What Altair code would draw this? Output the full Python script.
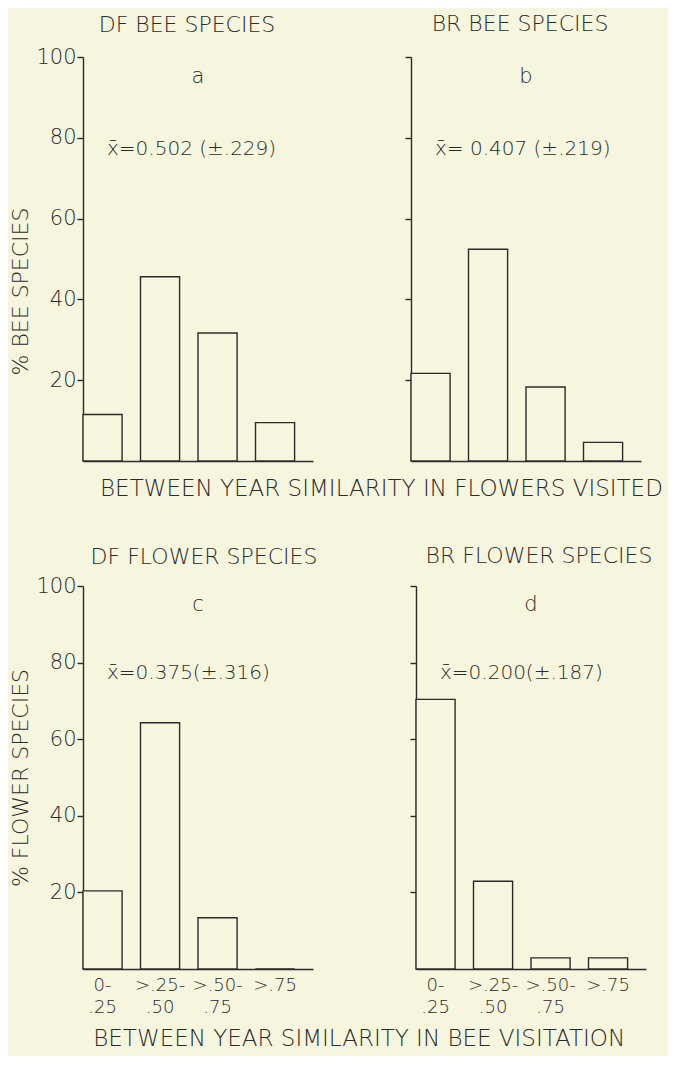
import altair as alt
import pandas as pd

# ---- data ----
categories = ["0-|.25", ">.25-|.50", ">.50-|.75", ">.75"]
df_bee = [11.5, 45.6, 31.7, 9.5]
br_bee = [21.7, 52.4, 18.3, 4.6]
df_flower = [20.4, 64.3, 13.4, 0.0]
br_flower = [70.4, 22.9, 2.9, 2.9]

panel_titles = ["DF BEE SPECIES", "BR BEE SPECIES", "DF FLOWER SPECIES", "BR FLOWER SPECIES"]
panel_letters = ["a", "b", "c", "d"]
mean_texts = ["x\u0304=0.502 (\u00b1.229)", "x\u0304= 0.407 (\u00b1.219)",
              "x\u0304=0.375(\u00b1.316)", "x\u0304=0.200(\u00b1.187)"]
y_titles = ["% BEE SPECIES", "% FLOWER SPECIES"]
x_titles = ["BETWEEN YEAR SIMILARITY IN FLOWERS VISITED",
            "BETWEEN YEAR SIMILARITY IN BEE VISITATION"]
y_ticks = [20, 40, 60, 80, 100]

BG = "#f6f5de"
INK = "#2b2b2b"
FONT = "DejaVu Sans"
W = 230


def panel(values, title, letter, mean, left, bottom, height, ytitle, title_dx,
          title_dy, title_y=None):
    df = pd.DataFrame({"cat": categories, "pct": values})
    xaxis = alt.Axis(
        title=None, ticks=False, labels=bottom, domainColor=INK, domainWidth=1.4,
        labelExpr="split(datum.label, '|')", labelFontSize=18, labelColor=INK,
        labelPadding=7, labelLineHeight=22, labelAngle=0, labelFont=FONT,
        labelFontWeight=300,
    )
    yaxis_kw = dict(
        values=y_ticks, labels=left, tickSize=6, tickColor=INK, tickWidth=1.4,
        domainColor=INK, domainWidth=1.4, labelFontSize=21, labelPadding=1,
        labelColor=INK, labelFont=FONT, labelFontWeight=300, grid=False,
        titleFontSize=22, titleFont=FONT, titleFontWeight=300, titleColor=INK,
        titlePadding=3,
    )
    if title_y is not None:
        yaxis_kw["titleY"] = title_y
    if ytitle:
        yaxis = alt.Axis(title=ytitle, **yaxis_kw)
    else:
        yaxis = alt.Axis(title=None, **yaxis_kw)

    bars = alt.Chart(df).mark_bar(fill=BG, stroke=INK, strokeWidth=1.4).encode(
        x=alt.X("cat:N", sort=categories,
                scale=alt.Scale(paddingInner=0.32, paddingOuter=0.16, align=0),
                axis=xaxis),
        y=alt.Y("pct:Q", scale=alt.Scale(domain=[0, 100]), axis=yaxis),
    )
    let = alt.Chart(pd.DataFrame({"t": [letter]})).mark_text(
        font=FONT, fontSize=21, fontWeight=300, color=INK, align="center",
        baseline="middle").encode(
        x=alt.value(W / 2), y=alt.datum(95), text="t:N")
    mtxt = alt.Chart(pd.DataFrame({"t": [mean]})).mark_text(
        font=FONT, fontSize=20, fontWeight=300, color=INK, align="left",
        baseline="middle").encode(
        x=alt.value(24), y=alt.datum(77.3), text="t:N")
    return alt.layer(bars, let, mtxt).properties(
        width=W, height=height,
        title=alt.TitleParams(title, font=FONT, fontSize=22, fontWeight=300,
                              color=INK, dx=title_dx, dy=title_dy, offset=10),
    )


a = panel(df_bee, panel_titles[0], panel_letters[0], mean_texts[0], True, False,
          404, y_titles[0], -11, 1, title_y=234)
b = panel(br_bee, panel_titles[1], panel_letters[1], mean_texts[1], False, False,
          404, None, -6, -10)
c = panel(df_flower, panel_titles[2], panel_letters[2], mean_texts[2], True, True,
          383, y_titles[1], 6, 4)
d = panel(br_flower, panel_titles[3], panel_letters[3], mean_texts[3], False, True,
          383, None, 8, -7)

top = alt.hconcat(a, b, spacing=91).properties(
    title=alt.TitleParams(x_titles[0], orient="bottom", anchor="middle", font=FONT,
                          fontSize=23, fontWeight=300, color=INK, offset=16, dx=56))
bot = alt.hconcat(c, d, spacing=91).properties(
    title=alt.TitleParams(x_titles[1], orient="bottom", anchor="middle", font=FONT,
                          fontSize=23, fontWeight=300, color=INK, offset=12, dx=28))

chart = alt.vconcat(top, bot, spacing=44).properties(
    padding={"left": 1, "top": 5, "right": 5, "bottom": 5},
    background=BG,
).configure_view(stroke=None)

chart.save("out.html", embed_options={"renderer": "svg", "actions": False})
